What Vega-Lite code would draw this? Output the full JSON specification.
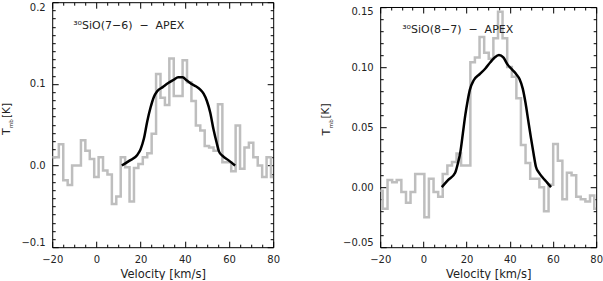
{
  "$schema": "https://vega.github.io/schema/vega-lite/v6.json",
  "padding": {"left": 1.2, "top": 1.2, "right": 0, "bottom": 0},
  "config": {
    "view": {"stroke": null},
    "font": "DejaVu Sans",
    "axis": {
      "grid": false, "domainColor": "black", "domainWidth": 1, "tickColor": "black", "tickWidth": 1,
      "labelFont": "DejaVu Sans", "labelFontSize": 10, "labelColor": "#222",
      "titleFont": "DejaVu Sans", "titleFontSize": 11.5, "titleFontWeight": "normal", "titleColor": "#222"
    }
  },
  "datasets": {
    "h1": [
      {"v": -20, "T": 0.010}, {"v": -18, "T": 0.010}, {"v": -16, "T": 0.026}, {"v": -14, "T": -0.018},
      {"v": -12, "T": -0.024}, {"v": -10, "T": 0.000}, {"v": -8, "T": 0.000}, {"v": -6, "T": 0.031},
      {"v": -4, "T": 0.018}, {"v": -2, "T": 0.008}, {"v": 0, "T": -0.014}, {"v": 2, "T": 0.010},
      {"v": 4, "T": -0.006}, {"v": 6, "T": -0.011}, {"v": 8, "T": -0.047}, {"v": 10, "T": -0.038},
      {"v": 12, "T": 0.010}, {"v": 14, "T": -0.002}, {"v": 16, "T": -0.044}, {"v": 18, "T": -0.003},
      {"v": 20, "T": 0.002}, {"v": 22, "T": 0.010}, {"v": 24, "T": 0.015}, {"v": 26, "T": 0.039},
      {"v": 28, "T": 0.112}, {"v": 30, "T": 0.083}, {"v": 32, "T": 0.074}, {"v": 34, "T": 0.131},
      {"v": 36, "T": 0.085}, {"v": 38, "T": 0.085}, {"v": 40, "T": 0.129}, {"v": 42, "T": 0.102},
      {"v": 44, "T": 0.079}, {"v": 46, "T": 0.049}, {"v": 48, "T": 0.043}, {"v": 50, "T": 0.024},
      {"v": 52, "T": 0.022}, {"v": 54, "T": 0.018}, {"v": 56, "T": 0.075}, {"v": 58, "T": 0.004},
      {"v": 60, "T": 0.004}, {"v": 62, "T": -0.007}, {"v": 64, "T": 0.049}, {"v": 66, "T": -0.004},
      {"v": 68, "T": 0.022}, {"v": 70, "T": 0.028}, {"v": 72, "T": 0.010}, {"v": 74, "T": 0.000},
      {"v": 76, "T": -0.014}, {"v": 78, "T": 0.010}, {"v": 80, "T": -0.014}
    ],
    "c1": [
      {"v": 11.5, "T": 0.000}, {"v": 15, "T": 0.006}, {"v": 18.5, "T": 0.013}, {"v": 20, "T": 0.020},
      {"v": 21.5, "T": 0.033}, {"v": 23, "T": 0.054}, {"v": 24.5, "T": 0.071}, {"v": 26, "T": 0.084},
      {"v": 27.5, "T": 0.091}, {"v": 30, "T": 0.096}, {"v": 32.5, "T": 0.101}, {"v": 35, "T": 0.105},
      {"v": 37, "T": 0.108}, {"v": 39, "T": 0.108}, {"v": 41, "T": 0.104}, {"v": 43, "T": 0.100},
      {"v": 45, "T": 0.097}, {"v": 47, "T": 0.093}, {"v": 48.5, "T": 0.088}, {"v": 50, "T": 0.079},
      {"v": 51.5, "T": 0.065}, {"v": 53, "T": 0.044}, {"v": 54.5, "T": 0.027}, {"v": 55.5, "T": 0.017},
      {"v": 57, "T": 0.012}, {"v": 60, "T": 0.006}, {"v": 62.8, "T": 0.000}
    ],
    "h2": [
      {"v": -20, "T": -0.003}, {"v": -17.7, "T": -0.018}, {"v": -15.5, "T": 0.006}, {"v": -13.4, "T": 0.004},
      {"v": -11.3, "T": 0.006}, {"v": -9.1, "T": -0.004}, {"v": -7.0, "T": -0.013}, {"v": -4.9, "T": -0.004},
      {"v": -2.7, "T": 0.011}, {"v": -0.6, "T": 0.011}, {"v": 1.5, "T": -0.025}, {"v": 3.6, "T": 0.007},
      {"v": 5.8, "T": -0.004}, {"v": 7.9, "T": -0.008}, {"v": 10.0, "T": 0.011}, {"v": 12.2, "T": 0.018},
      {"v": 14.3, "T": 0.021}, {"v": 16.4, "T": 0.028}, {"v": 18.5, "T": 0.018}, {"v": 20.7, "T": 0.018},
      {"v": 22.8, "T": 0.104}, {"v": 24.9, "T": 0.108}, {"v": 27.1, "T": 0.125}, {"v": 29.2, "T": 0.112},
      {"v": 31.3, "T": 0.107}, {"v": 33.5, "T": 0.124}, {"v": 35.6, "T": 0.146}, {"v": 37.7, "T": 0.124},
      {"v": 39.9, "T": 0.100}, {"v": 42.0, "T": 0.092}, {"v": 44.1, "T": 0.074}, {"v": 46.2, "T": 0.035},
      {"v": 48.4, "T": 0.020}, {"v": 50.5, "T": 0.007}, {"v": 52.6, "T": 0.007}, {"v": 54.8, "T": 0.000},
      {"v": 56.9, "T": -0.020}, {"v": 59.0, "T": 0.002}, {"v": 61.2, "T": 0.036}, {"v": 63.3, "T": 0.022},
      {"v": 65.4, "T": -0.010}, {"v": 67.5, "T": 0.012}, {"v": 69.7, "T": 0.010}, {"v": 71.8, "T": -0.008},
      {"v": 73.9, "T": -0.010}, {"v": 76.1, "T": -0.012}, {"v": 78.2, "T": -0.007}, {"v": 80, "T": -0.018}
    ],
    "c2": [
      {"v": 8.5, "T": 0.000}, {"v": 11.5, "T": 0.006}, {"v": 14.7, "T": 0.012}, {"v": 16, "T": 0.020},
      {"v": 17.1, "T": 0.029}, {"v": 18.3, "T": 0.045}, {"v": 19.4, "T": 0.060}, {"v": 20.5, "T": 0.072},
      {"v": 21.5, "T": 0.081}, {"v": 23.3, "T": 0.089}, {"v": 26, "T": 0.094}, {"v": 28.8, "T": 0.099},
      {"v": 31, "T": 0.104}, {"v": 33, "T": 0.108}, {"v": 35, "T": 0.110}, {"v": 37, "T": 0.108},
      {"v": 39, "T": 0.102}, {"v": 41, "T": 0.098}, {"v": 43, "T": 0.094}, {"v": 44.5, "T": 0.090},
      {"v": 46, "T": 0.082}, {"v": 47.3, "T": 0.070}, {"v": 48.5, "T": 0.056}, {"v": 49.8, "T": 0.041},
      {"v": 51, "T": 0.028}, {"v": 52.1, "T": 0.017}, {"v": 53.5, "T": 0.012}, {"v": 55.2, "T": 0.008},
      {"v": 57.2, "T": 0.004}, {"v": 59.1, "T": 0.000}
    ],
    "one": [{}]
  },
  "hconcat": [
    {
      "width": 221,
      "height": 245,
      "layer": [
        {
          "data": {"name": "h1"},
          "mark": {"type": "line", "interpolate": "step", "color": "#bebebe", "strokeWidth": 2.5, "clip": true},
          "encoding": {
            "x": {"field": "v", "type": "quantitative",
              "scale": {"domain": [-20, 80], "nice": false, "zero": false},
              "axis": {"orient": "bottom", "title": "Velocity [km/s]", "titlePadding": 4,
                "values": [-20, 0, 20, 40, 60, 80], "tickSize": -6,
                "labelPadding": 13, "labelFlush": false, "labelOverlap": false}},
            "y": {"field": "T", "type": "quantitative",
              "scale": {"domain": [-0.1, 0.2], "nice": false, "zero": false},
              "axis": {"orient": "left", "title": null, "format": ".1f",
                "values": [-0.1, 0, 0.1, 0.2], "tickSize": -6,
                "labelPadding": 13, "labelFlush": true, "labelOverlap": false}}
          }
        },
        {
          "data": {"name": "c1"},
          "mark": {"type": "line", "interpolate": "monotone", "color": "black", "strokeWidth": 2.5},
          "encoding": {
            "x": {"field": "v", "type": "quantitative",
              "axis": {"orient": "top", "title": null, "labels": false, "values": [-20, 0, 20, 40, 60, 80], "tickSize": -6}},
            "y": {"field": "T", "type": "quantitative",
              "axis": {"orient": "right", "title": null, "labels": false, "values": [-0.1, 0, 0.1, 0.2], "tickSize": -6}}
          }
        },
        {
          "data": {"name": "h1"},
          "mark": {"type": "point", "opacity": 0},
          "encoding": {
            "x": {"field": "v", "type": "quantitative",
              "axis": {"orient": "bottom", "title": null, "labels": false, "domain": false, "tickSize": -3,
                "values": [-15,-10,-5,5,10,15,25,30,35,45,50,55,65,70,75]}},
            "y": {"field": "T", "type": "quantitative",
              "axis": {"orient": "left", "title": null, "labels": false, "domain": false, "tickSize": -3,
                "values": [-0.09,-0.08,-0.07,-0.06,-0.05,-0.04,-0.03,-0.02,-0.01,0.01,0.02,0.03,0.04,0.05,0.06,0.07,0.08,0.09,0.11,0.12,0.13,0.14,0.15,0.16,0.17,0.18,0.19]}}
          }
        },
        {
          "data": {"name": "h1"},
          "mark": {"type": "point", "opacity": 0},
          "encoding": {
            "x": {"field": "v", "type": "quantitative",
              "axis": {"orient": "top", "title": null, "labels": false, "domain": false, "tickSize": -3,
                "values": [-15,-10,-5,5,10,15,25,30,35,45,50,55,65,70,75]}},
            "y": {"field": "T", "type": "quantitative",
              "axis": {"orient": "right", "title": null, "labels": false, "domain": false, "tickSize": -3,
                "values": [-0.09,-0.08,-0.07,-0.06,-0.05,-0.04,-0.03,-0.02,-0.01,0.01,0.02,0.03,0.04,0.05,0.06,0.07,0.08,0.09,0.11,0.12,0.13,0.14,0.15,0.16,0.17,0.18,0.19]}}
          }
        },
        {
          "data": {"name": "one"},
          "mark": {"type": "text", "text": "³⁰SiO(7−6)\u00a0\u00a0−\u00a0\u00a0APEX", "align": "left", "baseline": "alphabetic", "fontSize": 11, "color": "#222"},
          "encoding": {"x": {"datum": -10.5, "type": "quantitative", "axis": null}, "y": {"datum": 0.1666, "type": "quantitative", "axis": null}}
        },
        {
          "data": {"name": "one"},
          "mark": {"type": "text", "text": "T", "angle": 270, "align": "left", "baseline": "alphabetic", "fontSize": 11, "color": "#222", "dx": 30.5, "dy": -42},
          "encoding": {"x": {"datum": -20, "type": "quantitative", "axis": null}, "y": {"datum": 0, "type": "quantitative", "axis": null}}
        },
        {
          "data": {"name": "one"},
          "mark": {"type": "text", "text": "mb", "angle": 270, "align": "left", "baseline": "alphabetic", "fontSize": 5.5, "color": "#222", "dx": 37.5, "dy": -39.5},
          "encoding": {"x": {"datum": -20, "type": "quantitative", "axis": null}, "y": {"datum": 0, "type": "quantitative", "axis": null}}
        },
        {
          "data": {"name": "one"},
          "mark": {"type": "text", "text": "[K]", "angle": 270, "align": "left", "baseline": "alphabetic", "fontSize": 10.5, "color": "#222", "dx": 47.5, "dy": -42},
          "encoding": {"x": {"datum": -20, "type": "quantitative", "axis": null}, "y": {"datum": 0, "type": "quantitative", "axis": null}}
        }
      ],
      "resolve": {"axis": {"x": "independent", "y": "independent"}}
    },
    {
      "width": 216,
      "height": 245,
      "layer": [
        {
          "data": {"name": "h2"},
          "mark": {"type": "line", "interpolate": "step", "color": "#bebebe", "strokeWidth": 2.5, "clip": true},
          "encoding": {
            "x": {"field": "v", "type": "quantitative",
              "scale": {"domain": [-20, 80], "nice": false, "zero": false},
              "axis": {"orient": "bottom", "title": "Velocity [km/s]", "titlePadding": 4,
                "values": [-20, 0, 20, 40, 60, 80], "tickSize": -6,
                "labelPadding": 13, "labelFlush": false, "labelOverlap": false}},
            "y": {"field": "T", "type": "quantitative",
              "scale": {"domain": [-0.05, 0.15], "nice": false, "zero": false, "range": [245, 4.8]},
              "axis": {"orient": "left", "title": null, "format": ".2f",
                "values": [-0.05, 0, 0.05, 0.1, 0.15], "tickSize": -6,
                "labelPadding": 13, "labelFlush": true, "labelOverlap": false}}
          }
        },
        {
          "data": {"name": "c2"},
          "mark": {"type": "line", "interpolate": "monotone", "color": "black", "strokeWidth": 2.5},
          "encoding": {
            "x": {"field": "v", "type": "quantitative",
              "axis": {"orient": "top", "offset": -4.8, "title": null, "labels": false, "values": [-20, 0, 20, 40, 60, 80], "tickSize": -6}},
            "y": {"field": "T", "type": "quantitative",
              "axis": {"orient": "right", "title": null, "labels": false, "values": [-0.05, 0, 0.05, 0.1, 0.15], "tickSize": -6}}
          }
        },
        {
          "data": {"name": "h2"},
          "mark": {"type": "point", "opacity": 0},
          "encoding": {
            "x": {"field": "v", "type": "quantitative",
              "axis": {"orient": "bottom", "title": null, "labels": false, "domain": false, "tickSize": -3,
                "values": [-15,-10,-5,5,10,15,25,30,35,45,50,55,65,70,75]}},
            "y": {"field": "T", "type": "quantitative",
              "axis": {"orient": "left", "title": null, "labels": false, "domain": false, "tickSize": -3,
                "values": [-0.04,-0.03,-0.02,-0.01,0.01,0.02,0.03,0.04,0.06,0.07,0.08,0.09,0.11,0.12,0.13,0.14]}}
          }
        },
        {
          "data": {"name": "h2"},
          "mark": {"type": "point", "opacity": 0},
          "encoding": {
            "x": {"field": "v", "type": "quantitative",
              "axis": {"orient": "top", "offset": -4.8, "title": null, "labels": false, "domain": false, "tickSize": -3,
                "values": [-15,-10,-5,5,10,15,25,30,35,45,50,55,65,70,75]}},
            "y": {"field": "T", "type": "quantitative",
              "axis": {"orient": "right", "title": null, "labels": false, "domain": false, "tickSize": -3,
                "values": [-0.04,-0.03,-0.02,-0.01,0.01,0.02,0.03,0.04,0.06,0.07,0.08,0.09,0.11,0.12,0.13,0.14]}}
          }
        },
        {
          "data": {"name": "one"},
          "mark": {"type": "text", "text": "³⁰SiO(8−7)\u00a0\u00a0−\u00a0\u00a0APEX", "align": "left", "baseline": "alphabetic", "fontSize": 11, "color": "#222"},
          "encoding": {"x": {"datum": -9.8, "type": "quantitative", "axis": null}, "y": {"datum": 0.128, "type": "quantitative", "axis": null}}
        },
        {
          "data": {"name": "one"},
          "mark": {"type": "text", "text": "T", "angle": 270, "align": "left", "baseline": "alphabetic", "fontSize": 11, "color": "#222", "dx": 51.6, "dy": -50},
          "encoding": {"x": {"datum": -20, "type": "quantitative", "axis": null}, "y": {"datum": 0, "type": "quantitative", "axis": null}}
        },
        {
          "data": {"name": "one"},
          "mark": {"type": "text", "text": "mb", "angle": 270, "align": "left", "baseline": "alphabetic", "fontSize": 5.5, "color": "#222", "dx": 59, "dy": -47.5},
          "encoding": {"x": {"datum": -20, "type": "quantitative", "axis": null}, "y": {"datum": 0, "type": "quantitative", "axis": null}}
        },
        {
          "data": {"name": "one"},
          "mark": {"type": "text", "text": "[K]", "angle": 270, "align": "left", "baseline": "alphabetic", "fontSize": 10.5, "color": "#222", "dx": 68.6, "dy": -51},
          "encoding": {"x": {"datum": -20, "type": "quantitative", "axis": null}, "y": {"datum": 0, "type": "quantitative", "axis": null}}
        }
      ],
      "resolve": {"axis": {"x": "independent", "y": "independent"}}
    }
  ],
  "spacing": 40
}
